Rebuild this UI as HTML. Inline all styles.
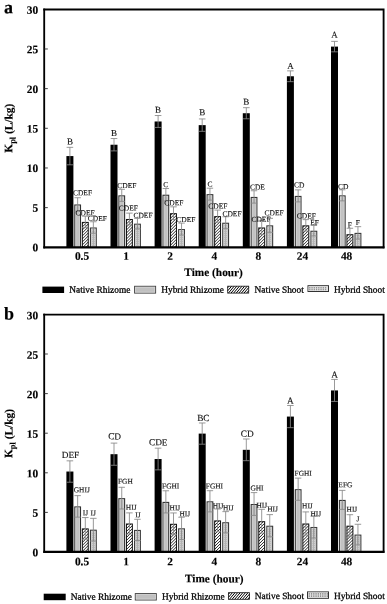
<!DOCTYPE html>
<html><head><meta charset="utf-8"><title>Kpl chart</title>
<style>html,body{margin:0;padding:0;background:#fff}body{width:387px;height:604px;overflow:hidden}svg{display:block;font-family:"Liberation Serif",serif;text-rendering:geometricPrecision}</style>
</head><body>
<svg width="387" height="604" viewBox="0 0 387 604">
<defs>
<pattern id="dots" width="2" height="2" patternUnits="userSpaceOnUse"><rect width="2" height="2" fill="#b2b2b2"/><rect width="0.8" height="1.3" fill="#d6d6d6"/></pattern>
<filter id="fb" x="-5%" y="-5%" width="110%" height="110%"><feGaussianBlur stdDeviation="0.3"/></filter>
<filter id="fh" x="-5%" y="-5%" width="110%" height="110%"><feGaussianBlur stdDeviation="0.05"/></filter>
<filter id="ft" x="-5%" y="-5%" width="110%" height="110%"><feGaussianBlur stdDeviation="0.4"/></filter>
</defs>
<rect width="387" height="604" fill="#fff"/>
<g filter="url(#fb)"><rect x="66.4" y="156.07" width="7" height="91.23" fill="#000"/>
<rect x="74.8" y="205.01" width="5.7" height="42.29" fill="#c2c2c2" stroke="#333" stroke-width="1.1"/>
<rect x="75.8" y="206.01" width="3.7" height="40.64" fill="none" stroke="#d6d6d6" stroke-width="0.7"/>
<rect x="90.45" y="228.02" width="5.8" height="19.28" fill="url(#dots)" stroke="#3a3a3a" stroke-width="1.1"/>
<rect x="91.45" y="229.02" width="3.8" height="17.63" fill="none" stroke="#dadada" stroke-width="0.7"/>
<rect x="110.5" y="144.73" width="7" height="102.57" fill="#000"/>
<rect x="118.9" y="195.89" width="5.7" height="51.41" fill="#c2c2c2" stroke="#333" stroke-width="1.1"/>
<rect x="119.9" y="196.89" width="3.7" height="49.76" fill="none" stroke="#d6d6d6" stroke-width="0.7"/>
<rect x="134.55" y="224.21" width="5.8" height="23.09" fill="url(#dots)" stroke="#3a3a3a" stroke-width="1.1"/>
<rect x="135.55" y="225.21" width="3.8" height="21.44" fill="none" stroke="#dadada" stroke-width="0.7"/>
<rect x="154.6" y="121.48" width="7" height="125.82" fill="#000"/>
<rect x="163" y="195.25" width="5.7" height="52.05" fill="#c2c2c2" stroke="#333" stroke-width="1.1"/>
<rect x="164" y="196.25" width="3.7" height="50.4" fill="none" stroke="#d6d6d6" stroke-width="0.7"/>
<rect x="178.65" y="229.6" width="5.8" height="17.7" fill="url(#dots)" stroke="#3a3a3a" stroke-width="1.1"/>
<rect x="179.65" y="230.6" width="3.8" height="16.05" fill="none" stroke="#dadada" stroke-width="0.7"/>
<rect x="198.7" y="125.13" width="7" height="122.17" fill="#000"/>
<rect x="207.1" y="194.7" width="5.7" height="52.6" fill="#c2c2c2" stroke="#333" stroke-width="1.1"/>
<rect x="208.1" y="195.7" width="3.7" height="50.95" fill="none" stroke="#d6d6d6" stroke-width="0.7"/>
<rect x="222.75" y="223.26" width="5.8" height="24.04" fill="url(#dots)" stroke="#3a3a3a" stroke-width="1.1"/>
<rect x="223.75" y="224.26" width="3.8" height="22.39" fill="none" stroke="#dadada" stroke-width="0.7"/>
<rect x="242.8" y="113.23" width="7" height="134.07" fill="#000"/>
<rect x="251.2" y="197.48" width="5.7" height="49.82" fill="#c2c2c2" stroke="#333" stroke-width="1.1"/>
<rect x="252.2" y="198.48" width="3.7" height="48.17" fill="none" stroke="#d6d6d6" stroke-width="0.7"/>
<rect x="266.85" y="225.88" width="5.8" height="21.42" fill="url(#dots)" stroke="#3a3a3a" stroke-width="1.1"/>
<rect x="267.85" y="226.88" width="3.8" height="19.77" fill="none" stroke="#dadada" stroke-width="0.7"/>
<rect x="286.9" y="76.26" width="7" height="171.04" fill="#000"/>
<rect x="295.3" y="196.44" width="5.7" height="50.86" fill="#c2c2c2" stroke="#333" stroke-width="1.1"/>
<rect x="296.3" y="197.44" width="3.7" height="49.21" fill="none" stroke="#d6d6d6" stroke-width="0.7"/>
<rect x="310.95" y="231.27" width="5.8" height="16.03" fill="url(#dots)" stroke="#3a3a3a" stroke-width="1.1"/>
<rect x="311.95" y="232.27" width="3.8" height="14.38" fill="none" stroke="#dadada" stroke-width="0.7"/>
<rect x="331" y="46.6" width="7" height="200.7" fill="#000"/>
<rect x="339.4" y="195.89" width="5.7" height="51.41" fill="#c2c2c2" stroke="#333" stroke-width="1.1"/>
<rect x="340.4" y="196.89" width="3.7" height="49.76" fill="none" stroke="#d6d6d6" stroke-width="0.7"/>
<rect x="355.05" y="233.41" width="5.8" height="13.89" fill="url(#dots)" stroke="#3a3a3a" stroke-width="1.1"/>
<rect x="356.05" y="234.41" width="3.8" height="12.24" fill="none" stroke="#dadada" stroke-width="0.7"/>
<rect x="66.4" y="471.53" width="7" height="80.37" fill="#000"/>
<rect x="74.8" y="506.93" width="5.7" height="44.97" fill="#c2c2c2" stroke="#333" stroke-width="1.1"/>
<rect x="75.8" y="507.93" width="3.7" height="43.32" fill="none" stroke="#d6d6d6" stroke-width="0.7"/>
<rect x="90.45" y="530.22" width="5.8" height="21.68" fill="url(#dots)" stroke="#3a3a3a" stroke-width="1.1"/>
<rect x="91.45" y="531.22" width="3.8" height="20.03" fill="none" stroke="#dadada" stroke-width="0.7"/>
<rect x="110.5" y="454.19" width="7" height="97.71" fill="#000"/>
<rect x="118.9" y="498.69" width="5.7" height="53.21" fill="#c2c2c2" stroke="#333" stroke-width="1.1"/>
<rect x="119.9" y="499.69" width="3.7" height="51.56" fill="none" stroke="#d6d6d6" stroke-width="0.7"/>
<rect x="134.55" y="530.45" width="5.8" height="21.45" fill="url(#dots)" stroke="#3a3a3a" stroke-width="1.1"/>
<rect x="135.55" y="531.45" width="3.8" height="19.8" fill="none" stroke="#dadada" stroke-width="0.7"/>
<rect x="154.6" y="459.02" width="7" height="92.88" fill="#000"/>
<rect x="163" y="502.42" width="5.7" height="49.48" fill="#c2c2c2" stroke="#333" stroke-width="1.1"/>
<rect x="164" y="503.42" width="3.7" height="47.83" fill="none" stroke="#d6d6d6" stroke-width="0.7"/>
<rect x="178.65" y="528.87" width="5.8" height="23.03" fill="url(#dots)" stroke="#3a3a3a" stroke-width="1.1"/>
<rect x="179.65" y="529.87" width="3.8" height="21.38" fill="none" stroke="#dadada" stroke-width="0.7"/>
<rect x="198.7" y="433.6" width="7" height="118.3" fill="#000"/>
<rect x="207.1" y="501.86" width="5.7" height="50.04" fill="#c2c2c2" stroke="#333" stroke-width="1.1"/>
<rect x="208.1" y="502.86" width="3.7" height="48.39" fill="none" stroke="#d6d6d6" stroke-width="0.7"/>
<rect x="222.75" y="522.77" width="5.8" height="29.13" fill="url(#dots)" stroke="#3a3a3a" stroke-width="1.1"/>
<rect x="223.75" y="523.77" width="3.8" height="27.48" fill="none" stroke="#dadada" stroke-width="0.7"/>
<rect x="242.8" y="449.83" width="7" height="102.07" fill="#000"/>
<rect x="251.2" y="504.55" width="5.7" height="47.35" fill="#c2c2c2" stroke="#333" stroke-width="1.1"/>
<rect x="252.2" y="505.55" width="3.7" height="45.7" fill="none" stroke="#d6d6d6" stroke-width="0.7"/>
<rect x="266.85" y="526.26" width="5.8" height="25.64" fill="url(#dots)" stroke="#3a3a3a" stroke-width="1.1"/>
<rect x="267.85" y="527.26" width="3.8" height="23.99" fill="none" stroke="#dadada" stroke-width="0.7"/>
<rect x="286.9" y="416.57" width="7" height="135.33" fill="#000"/>
<rect x="295.3" y="489.74" width="5.7" height="62.16" fill="#c2c2c2" stroke="#333" stroke-width="1.1"/>
<rect x="296.3" y="490.74" width="3.7" height="60.51" fill="none" stroke="#d6d6d6" stroke-width="0.7"/>
<rect x="310.95" y="527.52" width="5.8" height="24.38" fill="url(#dots)" stroke="#3a3a3a" stroke-width="1.1"/>
<rect x="311.95" y="528.52" width="3.8" height="22.73" fill="none" stroke="#dadada" stroke-width="0.7"/>
<rect x="331" y="390.43" width="7" height="161.47" fill="#000"/>
<rect x="339.4" y="500.44" width="5.7" height="51.46" fill="#c2c2c2" stroke="#333" stroke-width="1.1"/>
<rect x="340.4" y="501.44" width="3.7" height="49.81" fill="none" stroke="#d6d6d6" stroke-width="0.7"/>
<rect x="355.05" y="535.13" width="5.8" height="16.77" fill="url(#dots)" stroke="#3a3a3a" stroke-width="1.1"/>
<rect x="356.05" y="536.13" width="3.8" height="15.12" fill="none" stroke="#dadada" stroke-width="0.7"/>
<rect x="42.4" y="286.6" width="21.7" height="6.4" fill="#000"/>
<rect x="134.6" y="286.3" width="21" height="6.8" fill="#c0c0c0" stroke="#444" stroke-width="1"/>
<rect x="135.5" y="287.2" width="19.2" height="5" fill="none" stroke="#d4d4d4" stroke-width="0.8"/>
<rect x="308" y="285.7" width="20.5" height="5.8" fill="url(#dots)" stroke="#333" stroke-width="1"/>
<rect x="308.5" y="286.2" width="19.5" height="4.8" fill="#e4e4e4"/>
<path d="M309.8 286.9V290.3M312.05 286.9V290.3M314.3 286.9V290.3M316.55 286.9V290.3M318.8 286.9V290.3M321.05 286.9V290.3M323.3 286.9V290.3M325.55 286.9V290.3" stroke="#909090" stroke-width="1.25" stroke-dasharray="1.7 0.45" fill="none"/>
<rect x="43.7" y="593.7" width="22" height="6.5" fill="#000"/>
<rect x="135.3" y="593.6" width="21" height="6.4" fill="#c0c0c0" stroke="#444" stroke-width="1"/>
<rect x="136.2" y="594.5" width="19.2" height="4.6" fill="none" stroke="#d4d4d4" stroke-width="0.8"/>
<rect x="307.5" y="591.9" width="21" height="6.4" fill="url(#dots)" stroke="#333" stroke-width="1"/>
<rect x="308" y="592.4" width="20" height="5.4" fill="#e4e4e4"/>
<path d="M309.3 593.1V597.1M311.55 593.1V597.1M313.8 593.1V597.1M316.05 593.1V597.1M318.3 593.1V597.1M320.55 593.1V597.1M322.8 593.1V597.1M325.05 593.1V597.1M327.3 593.1V597.1" stroke="#909090" stroke-width="1.25" stroke-dasharray="1.7 0.45" fill="none"/></g>
<g filter="url(#fh)"><rect x="82.35" y="222.41" width="5.9" height="24.89" fill="#fff"/><path d="M82.35 223.91L83.85 222.41M82.35 226.91L86.85 222.41M82.35 229.91L88.25 224.01M82.35 232.91L88.25 227.01M82.35 235.91L88.25 230.01M82.35 238.91L88.25 233.01M82.35 241.91L88.25 236.01M82.35 244.91L88.25 239.01M82.96 247.3L88.25 242.01M85.96 247.3L88.25 245.01" stroke="#000" stroke-width="0.85" fill="none"/>
<rect x="126.45" y="219.48" width="5.9" height="27.82" fill="#fff"/><path d="M126.45 220.98L127.95 219.48M126.45 223.98L130.95 219.48M126.45 226.98L132.35 221.08M126.45 229.98L132.35 224.08M126.45 232.98L132.35 227.08M126.45 235.98L132.35 230.08M126.45 238.98L132.35 233.08M126.45 241.98L132.35 236.08M126.45 244.98L132.35 239.08M127.13 247.3L132.35 242.08M130.13 247.3L132.35 245.08" stroke="#000" stroke-width="0.85" fill="none"/>
<rect x="170.55" y="213.69" width="5.9" height="33.61" fill="#fff"/><path d="M170.55 215.19L172.05 213.69M170.55 218.19L175.05 213.69M170.55 221.19L176.45 215.29M170.55 224.19L176.45 218.29M170.55 227.19L176.45 221.29M170.55 230.19L176.45 224.29M170.55 233.19L176.45 227.29M170.55 236.19L176.45 230.29M170.55 239.19L176.45 233.29M170.55 242.19L176.45 236.29M170.55 245.19L176.45 239.29M171.44 247.3L176.45 242.29M174.44 247.3L176.45 245.29" stroke="#000" stroke-width="0.85" fill="none"/>
<rect x="214.65" y="216.62" width="5.9" height="30.68" fill="#fff"/><path d="M214.65 218.12L216.15 216.62M214.65 221.12L219.15 216.62M214.65 224.12L220.55 218.22M214.65 227.12L220.55 221.22M214.65 230.12L220.55 224.22M214.65 233.12L220.55 227.22M214.65 236.12L220.55 230.22M214.65 239.12L220.55 233.22M214.65 242.12L220.55 236.22M214.65 245.12L220.55 239.22M215.47 247.3L220.55 242.22M218.47 247.3L220.55 245.22" stroke="#000" stroke-width="0.85" fill="none"/>
<rect x="258.75" y="227.97" width="5.9" height="19.33" fill="#fff"/><path d="M258.75 229.47L260.25 227.97M258.75 232.47L263.25 227.97M258.75 235.47L264.65 229.57M258.75 238.47L264.65 232.57M258.75 241.47L264.65 235.57M258.75 244.47L264.65 238.57M258.92 247.3L264.65 241.57M261.92 247.3L264.65 244.57" stroke="#000" stroke-width="0.85" fill="none"/>
<rect x="302.85" y="225.83" width="5.9" height="21.47" fill="#fff"/><path d="M302.85 227.33L304.35 225.83M302.85 230.33L307.35 225.83M302.85 233.33L308.75 227.43M302.85 236.33L308.75 230.43M302.85 239.33L308.75 233.43M302.85 242.33L308.75 236.43M302.85 245.33L308.75 239.43M303.88 247.3L308.75 242.43M306.88 247.3L308.75 245.43" stroke="#000" stroke-width="0.85" fill="none"/>
<rect x="346.95" y="234.71" width="5.9" height="12.59" fill="#fff"/><path d="M346.95 236.21L348.45 234.71M346.95 239.21L351.45 234.71M346.95 242.21L352.85 236.31M346.95 245.21L352.85 239.31M347.86 247.3L352.85 242.31M350.86 247.3L352.85 245.31" stroke="#000" stroke-width="0.85" fill="none"/>
<rect x="82.35" y="528.9" width="5.9" height="23" fill="#fff"/><path d="M82.35 530.4L83.85 528.9M82.35 533.4L86.85 528.9M82.35 536.4L88.25 530.5M82.35 539.4L88.25 533.5M82.35 542.4L88.25 536.5M82.35 545.4L88.25 539.5M82.35 548.4L88.25 542.5M82.35 551.4L88.25 545.5M84.85 551.9L88.25 548.5M87.85 551.9L88.25 551.5" stroke="#000" stroke-width="0.85" fill="none"/>
<rect x="126.45" y="523.99" width="5.9" height="27.91" fill="#fff"/><path d="M126.45 525.49L127.95 523.99M126.45 528.49L130.95 523.99M126.45 531.49L132.35 525.59M126.45 534.49L132.35 528.59M126.45 537.49L132.35 531.59M126.45 540.49L132.35 534.59M126.45 543.49L132.35 537.59M126.45 546.49L132.35 540.59M126.45 549.49L132.35 543.59M127.04 551.9L132.35 546.59M130.04 551.9L132.35 549.59" stroke="#000" stroke-width="0.85" fill="none"/>
<rect x="170.55" y="524.3" width="5.9" height="27.6" fill="#fff"/><path d="M170.55 525.8L172.05 524.3M170.55 528.8L175.05 524.3M170.55 531.8L176.45 525.9M170.55 534.8L176.45 528.9M170.55 537.8L176.45 531.9M170.55 540.8L176.45 534.9M170.55 543.8L176.45 537.9M170.55 546.8L176.45 540.9M170.55 549.8L176.45 543.9M171.45 551.9L176.45 546.9M174.45 551.9L176.45 549.9" stroke="#000" stroke-width="0.85" fill="none"/>
<rect x="214.65" y="520.9" width="5.9" height="31" fill="#fff"/><path d="M214.65 522.4L216.15 520.9M214.65 525.4L219.15 520.9M214.65 528.4L220.55 522.5M214.65 531.4L220.55 525.5M214.65 534.4L220.55 528.5M214.65 537.4L220.55 531.5M214.65 540.4L220.55 534.5M214.65 543.4L220.55 537.5M214.65 546.4L220.55 540.5M214.65 549.4L220.55 543.5M215.15 551.9L220.55 546.5M218.15 551.9L220.55 549.5" stroke="#000" stroke-width="0.85" fill="none"/>
<rect x="258.75" y="521.69" width="5.9" height="30.21" fill="#fff"/><path d="M258.75 523.19L260.25 521.69M258.75 526.19L263.25 521.69M258.75 529.19L264.65 523.29M258.75 532.19L264.65 526.29M258.75 535.19L264.65 529.29M258.75 538.19L264.65 532.29M258.75 541.19L264.65 535.29M258.75 544.19L264.65 538.29M258.75 547.19L264.65 541.29M258.75 550.19L264.65 544.29M260.04 551.9L264.65 547.29M263.04 551.9L264.65 550.29" stroke="#000" stroke-width="0.85" fill="none"/>
<rect x="302.85" y="523.99" width="5.9" height="27.91" fill="#fff"/><path d="M302.85 525.49L304.35 523.99M302.85 528.49L307.35 523.99M302.85 531.49L308.75 525.59M302.85 534.49L308.75 528.59M302.85 537.49L308.75 531.59M302.85 540.49L308.75 534.59M302.85 543.49L308.75 537.59M302.85 546.49L308.75 540.59M302.85 549.49L308.75 543.59M303.44 551.9L308.75 546.59M306.44 551.9L308.75 549.59" stroke="#000" stroke-width="0.85" fill="none"/>
<rect x="346.95" y="526.21" width="5.9" height="25.69" fill="#fff"/><path d="M346.95 527.71L348.45 526.21M346.95 530.71L351.45 526.21M346.95 533.71L352.85 527.81M346.95 536.71L352.85 530.81M346.95 539.71L352.85 533.81M346.95 542.71L352.85 536.81M346.95 545.71L352.85 539.81M346.95 548.71L352.85 542.81M346.95 551.71L352.85 545.81M349.76 551.9L352.85 548.81M352.76 551.9L352.85 551.81" stroke="#000" stroke-width="0.85" fill="none"/>
<rect x="227.7" y="286.2" width="21" height="6.9" fill="#fff"/><path d="M227.7 287.75L229 286.2M227.7 290.85L231.6 286.2M228.41 293.1L234.2 286.2M231.01 293.1L236.8 286.2M233.62 293.1L239.41 286.2M236.22 293.1L242.01 286.2M238.82 293.1L244.61 286.2M241.42 293.1L247.21 286.2M244.02 293.1L248.7 287.52M246.62 293.1L248.7 290.62" stroke="#000" stroke-width="1.0" fill="none"/>
<rect x="228.5" y="592.7" width="21" height="6.6" fill="#fff"/><path d="M228.5 594.25L229.8 592.7M228.5 597.35L232.4 592.7M229.46 599.3L235 592.7M232.07 599.3L237.6 592.7M234.67 599.3L240.21 592.7M237.27 599.3L242.81 592.7M239.87 599.3L245.41 592.7M242.47 599.3L248.01 592.7M245.07 599.3L249.5 594.02M247.67 599.3L249.5 597.12" stroke="#000" stroke-width="1.0" fill="none"/></g>
<g filter="url(#fb)"><rect x="82.35" y="222.41" width="5.9" height="24.89" fill="none" stroke="#111" stroke-width="1"/>
<rect x="126.45" y="219.48" width="5.9" height="27.82" fill="none" stroke="#111" stroke-width="1"/>
<rect x="170.55" y="213.69" width="5.9" height="33.61" fill="none" stroke="#111" stroke-width="1"/>
<rect x="214.65" y="216.62" width="5.9" height="30.68" fill="none" stroke="#111" stroke-width="1"/>
<rect x="258.75" y="227.97" width="5.9" height="19.33" fill="none" stroke="#111" stroke-width="1"/>
<rect x="302.85" y="225.83" width="5.9" height="21.47" fill="none" stroke="#111" stroke-width="1"/>
<rect x="346.95" y="234.71" width="5.9" height="12.59" fill="none" stroke="#111" stroke-width="1"/>
<rect x="82.35" y="528.9" width="5.9" height="23" fill="none" stroke="#111" stroke-width="1"/>
<rect x="126.45" y="523.99" width="5.9" height="27.91" fill="none" stroke="#111" stroke-width="1"/>
<rect x="170.55" y="524.3" width="5.9" height="27.6" fill="none" stroke="#111" stroke-width="1"/>
<rect x="214.65" y="520.9" width="5.9" height="31" fill="none" stroke="#111" stroke-width="1"/>
<rect x="258.75" y="521.69" width="5.9" height="30.21" fill="none" stroke="#111" stroke-width="1"/>
<rect x="302.85" y="523.99" width="5.9" height="27.91" fill="none" stroke="#111" stroke-width="1"/>
<rect x="346.95" y="526.21" width="5.9" height="25.69" fill="none" stroke="#111" stroke-width="1"/>
<rect x="227.7" y="286.2" width="21" height="6.9" fill="none" stroke="#111" stroke-width="0.8"/>
<rect x="228.5" y="592.7" width="21" height="6.6" fill="none" stroke="#111" stroke-width="0.8"/>
<path d="M69.9 147.34V164.8M66.6 147.34H73.2M66.6 164.8H73.2" stroke="#868686" stroke-width="0.85" fill="none"/>
<path d="M77.65 197.72V211.2M74.45 197.72H80.85M74.45 211.2H80.85" stroke="#868686" stroke-width="0.85" fill="none"/>
<path d="M85.3 216.2V227.63M82.05 216.2H88.55M82.05 227.63H88.55" stroke="#868686" stroke-width="0.85" fill="none"/>
<path d="M93.35 221.76V233.18M90.1 221.76H96.6M90.1 233.18H96.6" stroke="#868686" stroke-width="0.85" fill="none"/>
<path d="M114 138.54V150.91M110.7 138.54H117.3M110.7 150.91H117.3" stroke="#868686" stroke-width="0.85" fill="none"/>
<path d="M121.75 189.31V201.37M118.55 189.31H124.95M118.55 201.37H124.95" stroke="#868686" stroke-width="0.85" fill="none"/>
<path d="M129.4 213.11V224.85M126.15 213.11H132.65M126.15 224.85H132.65" stroke="#868686" stroke-width="0.85" fill="none"/>
<path d="M137.45 218.42V228.9M134.2 218.42H140.7M134.2 228.9H140.7" stroke="#868686" stroke-width="0.85" fill="none"/>
<path d="M158.1 115.53V127.43M154.8 115.53H161.4M154.8 127.43H161.4" stroke="#868686" stroke-width="0.85" fill="none"/>
<path d="M165.85 188.52V200.89M162.65 188.52H169.05M162.65 200.89H169.05" stroke="#868686" stroke-width="0.85" fill="none"/>
<path d="M173.5 206.84V219.53M170.25 206.84H176.75M170.25 219.53H176.75" stroke="#868686" stroke-width="0.85" fill="none"/>
<path d="M181.55 223.1V235M178.3 223.1H184.8M178.3 235H184.8" stroke="#868686" stroke-width="0.85" fill="none"/>
<path d="M202.2 118.94V131.32M198.9 118.94H205.5M198.9 131.32H205.5" stroke="#868686" stroke-width="0.85" fill="none"/>
<path d="M209.95 188.2V200.1M206.75 188.2H213.15M206.75 200.1H213.15" stroke="#868686" stroke-width="0.85" fill="none"/>
<path d="M217.6 210.09V222.15M214.35 210.09H220.85M214.35 222.15H220.85" stroke="#868686" stroke-width="0.85" fill="none"/>
<path d="M225.65 216.76V228.66M222.4 216.76H228.9M222.4 228.66H228.9" stroke="#868686" stroke-width="0.85" fill="none"/>
<path d="M246.3 107.68V118.79M243 107.68H249.6M243 118.79H249.6" stroke="#868686" stroke-width="0.85" fill="none"/>
<path d="M254.05 190.74V203.11M250.85 190.74H257.25M250.85 203.11H257.25" stroke="#868686" stroke-width="0.85" fill="none"/>
<path d="M261.7 220.33V234.61M258.45 220.33H264.95M258.45 234.61H264.95" stroke="#868686" stroke-width="0.85" fill="none"/>
<path d="M269.75 218.34V232.31M266.5 218.34H273M266.5 232.31H273" stroke="#868686" stroke-width="0.85" fill="none"/>
<path d="M290.4 70.87V81.66M287.1 70.87H293.7M287.1 81.66H293.7" stroke="#868686" stroke-width="0.85" fill="none"/>
<path d="M298.15 189.87V201.92M294.95 189.87H301.35M294.95 201.92H301.35" stroke="#868686" stroke-width="0.85" fill="none"/>
<path d="M305.8 219.61V231.04M302.55 219.61H309.05M302.55 231.04H309.05" stroke="#868686" stroke-width="0.85" fill="none"/>
<path d="M313.85 225.48V235.96M310.6 225.48H317.1M310.6 235.96H317.1" stroke="#868686" stroke-width="0.85" fill="none"/>
<path d="M334.5 41.36V51.83M331.2 41.36H337.8M331.2 51.83H337.8" stroke="#868686" stroke-width="0.85" fill="none"/>
<path d="M342.25 189.79V200.89M339.05 189.79H345.45M339.05 200.89H345.45" stroke="#868686" stroke-width="0.85" fill="none"/>
<path d="M349.9 228.26V240.16M346.65 228.26H353.15M346.65 240.16H353.15" stroke="#868686" stroke-width="0.85" fill="none"/>
<path d="M357.95 226.67V239.05M354.7 226.67H361.2M354.7 239.05H361.2" stroke="#868686" stroke-width="0.85" fill="none"/>
<path d="M69.9 460.84V482.22M66.6 460.84H73.2M66.6 482.22H73.2" stroke="#868686" stroke-width="0.85" fill="none"/>
<path d="M77.65 495.61V517.15M74.45 495.61H80.85M74.45 517.15H80.85" stroke="#868686" stroke-width="0.85" fill="none"/>
<path d="M85.3 517.55V539.25M82.05 517.55H88.55M82.05 539.25H88.55" stroke="#868686" stroke-width="0.85" fill="none"/>
<path d="M93.35 518.34V540.99M90.1 518.34H96.6M90.1 540.99H96.6" stroke="#868686" stroke-width="0.85" fill="none"/>
<path d="M114 443.1V465.28M110.7 443.1H117.3M110.7 465.28H117.3" stroke="#868686" stroke-width="0.85" fill="none"/>
<path d="M121.75 487.29V508.99M118.55 487.29H124.95M118.55 508.99H124.95" stroke="#868686" stroke-width="0.85" fill="none"/>
<path d="M129.4 512.88V534.1M126.15 512.88H132.65M126.15 534.1H132.65" stroke="#868686" stroke-width="0.85" fill="none"/>
<path d="M137.45 519.29V540.52M134.2 519.29H140.7M134.2 540.52H140.7" stroke="#868686" stroke-width="0.85" fill="none"/>
<path d="M158.1 448.17V469.87M154.8 448.17H161.4M154.8 469.87H161.4" stroke="#868686" stroke-width="0.85" fill="none"/>
<path d="M165.85 490.78V512.95M162.65 490.78H169.05M162.65 512.95H169.05" stroke="#868686" stroke-width="0.85" fill="none"/>
<path d="M173.5 512.95V534.66M170.25 512.95H176.75M170.25 534.66H176.75" stroke="#868686" stroke-width="0.85" fill="none"/>
<path d="M181.55 517.23V539.41M178.3 517.23H184.8M178.3 539.41H184.8" stroke="#868686" stroke-width="0.85" fill="none"/>
<path d="M202.2 422.98V444.21M198.9 422.98H205.5M198.9 444.21H205.5" stroke="#868686" stroke-width="0.85" fill="none"/>
<path d="M209.95 490.7V511.92M206.75 490.7H213.15M206.75 511.92H213.15" stroke="#868686" stroke-width="0.85" fill="none"/>
<path d="M217.6 508.99V531.8M214.35 508.99H220.85M214.35 531.8H220.85" stroke="#868686" stroke-width="0.85" fill="none"/>
<path d="M225.65 511.61V532.83M222.4 511.61H228.9M222.4 532.83H228.9" stroke="#868686" stroke-width="0.85" fill="none"/>
<path d="M246.3 438.98V460.68M243 438.98H249.6M243 460.68H249.6" stroke="#868686" stroke-width="0.85" fill="none"/>
<path d="M254.05 492.6V515.41M250.85 492.6H257.25M250.85 515.41H257.25" stroke="#868686" stroke-width="0.85" fill="none"/>
<path d="M261.7 509.31V533.07M258.45 509.31H264.95M258.45 533.07H264.95" stroke="#868686" stroke-width="0.85" fill="none"/>
<path d="M269.75 514.62V536.79M266.5 514.62H273M266.5 536.79H273" stroke="#868686" stroke-width="0.85" fill="none"/>
<path d="M290.4 405.48V427.66M287.1 405.48H293.7M287.1 427.66H293.7" stroke="#868686" stroke-width="0.85" fill="none"/>
<path d="M298.15 478.11V500.28M294.95 478.11H301.35M294.95 500.28H301.35" stroke="#868686" stroke-width="0.85" fill="none"/>
<path d="M305.8 511.92V535.05M302.55 511.92H309.05M302.55 535.05H309.05" stroke="#868686" stroke-width="0.85" fill="none"/>
<path d="M313.85 515.88V538.06M310.6 515.88H317.1M310.6 538.06H317.1" stroke="#868686" stroke-width="0.85" fill="none"/>
<path d="M334.5 379.42V401.44M331.2 379.42H337.8M331.2 401.44H337.8" stroke="#868686" stroke-width="0.85" fill="none"/>
<path d="M342.25 490.38V509.39M339.05 490.38H345.45M339.05 509.39H345.45" stroke="#868686" stroke-width="0.85" fill="none"/>
<path d="M349.9 514.7V536.71M346.65 514.7H353.15M346.65 536.71H353.15" stroke="#868686" stroke-width="0.85" fill="none"/>
<path d="M357.95 524.28V544.87M354.7 524.28H361.2M354.7 544.87H361.2" stroke="#868686" stroke-width="0.85" fill="none"/>
<path d="M44.2 9.5H383.6V247.3" stroke="#000" stroke-width="1.85" fill="none" stroke-linecap="square"/>
<path d="M44.2 8.6V248.35" stroke="#000" stroke-width="1.85" fill="none"/>
<path d="M43.3 247.3H384.5" stroke="#000" stroke-width="2.15" fill="none"/>
<path d="M44.2 207.64H47.8" stroke="#222" stroke-width="0.85"/>
<path d="M44.2 167.97H47.8" stroke="#222" stroke-width="0.85"/>
<path d="M44.2 128.31H47.8" stroke="#222" stroke-width="0.85"/>
<path d="M44.2 88.64H47.8" stroke="#222" stroke-width="0.85"/>
<path d="M44.2 48.98H47.8" stroke="#222" stroke-width="0.85"/>
<path d="M44.2 314.6H383.6V551.9" stroke="#000" stroke-width="1.85" fill="none" stroke-linecap="square"/>
<path d="M44.2 313.7V552.95" stroke="#000" stroke-width="1.85" fill="none"/>
<path d="M43.3 551.9H384.5" stroke="#000" stroke-width="2.15" fill="none"/>
<path d="M44.2 512.4H47.8" stroke="#222" stroke-width="0.85"/>
<path d="M44.2 472.8H47.8" stroke="#222" stroke-width="0.85"/>
<path d="M44.2 433.2H47.8" stroke="#222" stroke-width="0.85"/>
<path d="M44.2 393.6H47.8" stroke="#222" stroke-width="0.85"/>
<path d="M44.2 354H47.8" stroke="#222" stroke-width="0.85"/></g>
<g filter="url(#ft)"><text transform="translate(69.9 144.58) matrix(1 .002 0 1 0 0)" font-size="9" text-anchor="middle" fill="#111" stroke="#111" stroke-width="0.12">B</text>
<text transform="translate(82.5 195.28) matrix(1 .002 0 1 0 0)" font-size="7.5" text-anchor="middle" fill="#111" stroke="#111" stroke-width="0.12">CDEF</text>
<text transform="translate(85.1 215.18) matrix(1 .002 0 1 0 0)" font-size="7.5" text-anchor="middle" fill="#111" stroke="#111" stroke-width="0.12">CDEF</text>
<text transform="translate(97.35 220.88) matrix(1 .002 0 1 0 0)" font-size="7.5" text-anchor="middle" fill="#111" stroke="#111" stroke-width="0.12">CDEF</text>
<text transform="translate(114 136.08) matrix(1 .002 0 1 0 0)" font-size="9" text-anchor="middle" fill="#111" stroke="#111" stroke-width="0.12">B</text>
<text transform="translate(126.95 188.08) matrix(1 .002 0 1 0 0)" font-size="7.5" text-anchor="middle" fill="#111" stroke="#111" stroke-width="0.12">CDEF</text>
<text transform="translate(128.35 210.48) matrix(1 .002 0 1 0 0)" font-size="7.5" text-anchor="middle" fill="#111" stroke="#111" stroke-width="0.12">CDEF</text>
<text transform="translate(143 217.78) matrix(1 .002 0 1 0 0)" font-size="7.5" text-anchor="middle" fill="#111" stroke="#111" stroke-width="0.12">CDEF</text>
<text transform="translate(158.1 112.78) matrix(1 .002 0 1 0 0)" font-size="9" text-anchor="middle" fill="#111" stroke="#111" stroke-width="0.12">B</text>
<text transform="translate(165.85 186.98) matrix(1 .002 0 1 0 0)" font-size="7.5" text-anchor="middle" fill="#111" stroke="#111" stroke-width="0.12">C</text>
<text transform="translate(173.95 205.28) matrix(1 .002 0 1 0 0)" font-size="7.5" text-anchor="middle" fill="#111" stroke="#111" stroke-width="0.12">CDEF</text>
<text transform="translate(185.85 222.08) matrix(1 .002 0 1 0 0)" font-size="7.5" text-anchor="middle" fill="#111" stroke="#111" stroke-width="0.12">CDEF</text>
<text transform="translate(202.2 115.38) matrix(1 .002 0 1 0 0)" font-size="9" text-anchor="middle" fill="#111" stroke="#111" stroke-width="0.12">B</text>
<text transform="translate(209.95 186.48) matrix(1 .002 0 1 0 0)" font-size="7.5" text-anchor="middle" fill="#111" stroke="#111" stroke-width="0.12">C</text>
<text transform="translate(217.9 208.48) matrix(1 .002 0 1 0 0)" font-size="7.5" text-anchor="middle" fill="#111" stroke="#111" stroke-width="0.12">CDEF</text>
<text transform="translate(232 216.18) matrix(1 .002 0 1 0 0)" font-size="7.5" text-anchor="middle" fill="#111" stroke="#111" stroke-width="0.12">CDEF</text>
<text transform="translate(246.3 104.88) matrix(1 .002 0 1 0 0)" font-size="9" text-anchor="middle" fill="#111" stroke="#111" stroke-width="0.12">B</text>
<text transform="translate(257.45 189.48) matrix(1 .002 0 1 0 0)" font-size="7.5" text-anchor="middle" fill="#111" stroke="#111" stroke-width="0.12">CDE</text>
<text transform="translate(261 221.78) matrix(1 .002 0 1 0 0)" font-size="7.5" text-anchor="middle" fill="#111" stroke="#111" stroke-width="0.12">CDEF</text>
<text transform="translate(274.05 215.28) matrix(1 .002 0 1 0 0)" font-size="7.5" text-anchor="middle" fill="#111" stroke="#111" stroke-width="0.12">CDEF</text>
<text transform="translate(290.4 68.98) matrix(1 .002 0 1 0 0)" font-size="9" text-anchor="middle" fill="#111" stroke="#111" stroke-width="0.12">A</text>
<text transform="translate(299.1 187.38) matrix(1 .002 0 1 0 0)" font-size="7.5" text-anchor="middle" fill="#111" stroke="#111" stroke-width="0.12">CD</text>
<text transform="translate(306.35 218.38) matrix(1 .002 0 1 0 0)" font-size="7.5" text-anchor="middle" fill="#111" stroke="#111" stroke-width="0.12">CDEF</text>
<text transform="translate(314.6 224.88) matrix(1 .002 0 1 0 0)" font-size="7.5" text-anchor="middle" fill="#111" stroke="#111" stroke-width="0.12">EF</text>
<text transform="translate(334.5 37.78) matrix(1 .002 0 1 0 0)" font-size="9" text-anchor="middle" fill="#111" stroke="#111" stroke-width="0.12">A</text>
<text transform="translate(343.15 188.98) matrix(1 .002 0 1 0 0)" font-size="7.5" text-anchor="middle" fill="#111" stroke="#111" stroke-width="0.12">CD</text>
<text transform="translate(349.9 227.48) matrix(1 .002 0 1 0 0)" font-size="7.5" text-anchor="middle" fill="#111" stroke="#111" stroke-width="0.12">F</text>
<text transform="translate(357.95 224.98) matrix(1 .002 0 1 0 0)" font-size="7.5" text-anchor="middle" fill="#111" stroke="#111" stroke-width="0.12">F</text>
<text transform="translate(38.2 251.25) matrix(1 .002 0 1 0 0)" font-size="11.4" font-weight="bold" text-anchor="end" stroke="#000" stroke-width="0.15">0</text>
<text transform="translate(38.2 211.67) matrix(1 .002 0 1 0 0)" font-size="11.4" font-weight="bold" text-anchor="end" stroke="#000" stroke-width="0.15">5</text>
<text transform="translate(38.2 172.09) matrix(1 .002 0 1 0 0)" font-size="11.4" font-weight="bold" text-anchor="end" stroke="#000" stroke-width="0.15">10</text>
<text transform="translate(38.2 132.5) matrix(1 .002 0 1 0 0)" font-size="11.4" font-weight="bold" text-anchor="end" stroke="#000" stroke-width="0.15">15</text>
<text transform="translate(38.2 92.92) matrix(1 .002 0 1 0 0)" font-size="11.4" font-weight="bold" text-anchor="end" stroke="#000" stroke-width="0.15">20</text>
<text transform="translate(38.2 53.34) matrix(1 .002 0 1 0 0)" font-size="11.4" font-weight="bold" text-anchor="end" stroke="#000" stroke-width="0.15">25</text>
<text transform="translate(38.2 13.76) matrix(1 .002 0 1 0 0)" font-size="11.4" font-weight="bold" text-anchor="end" stroke="#000" stroke-width="0.15">30</text>
<text transform="translate(70.5 458.08) matrix(1 .002 0 1 0 0)" font-size="9.3" text-anchor="middle" fill="#111" stroke="#111" stroke-width="0.12">DEF</text>
<text transform="translate(81.75 492.35) matrix(1 .002 0 1 0 0)" font-size="7.4" text-anchor="middle" fill="#111" stroke="#111" stroke-width="0.12">GHIJ</text>
<text transform="translate(85.5 515.35) matrix(1 .002 0 1 0 0)" font-size="7.4" text-anchor="middle" fill="#111" stroke="#111" stroke-width="0.12">IJ</text>
<text transform="translate(93.25 515.55) matrix(1 .002 0 1 0 0)" font-size="7.4" text-anchor="middle" fill="#111" stroke="#111" stroke-width="0.12">IJ</text>
<text transform="translate(114.6 439.38) matrix(1 .002 0 1 0 0)" font-size="9.3" text-anchor="middle" fill="#111" stroke="#111" stroke-width="0.12">CD</text>
<text transform="translate(125.4 483.75) matrix(1 .002 0 1 0 0)" font-size="7.4" text-anchor="middle" fill="#111" stroke="#111" stroke-width="0.12">FGH</text>
<text transform="translate(131.2 509.65) matrix(1 .002 0 1 0 0)" font-size="7.4" text-anchor="middle" fill="#111" stroke="#111" stroke-width="0.12">HIJ</text>
<text transform="translate(137.95 517.35) matrix(1 .002 0 1 0 0)" font-size="7.4" text-anchor="middle" fill="#111" stroke="#111" stroke-width="0.12">IJ</text>
<text transform="translate(158.25 445.38) matrix(1 .002 0 1 0 0)" font-size="9.3" text-anchor="middle" fill="#111" stroke="#111" stroke-width="0.12">CDE</text>
<text transform="translate(170.7 488.45) matrix(1 .002 0 1 0 0)" font-size="7.4" text-anchor="middle" fill="#111" stroke="#111" stroke-width="0.12">FGHI</text>
<text transform="translate(174.9 510.35) matrix(1 .002 0 1 0 0)" font-size="7.4" text-anchor="middle" fill="#111" stroke="#111" stroke-width="0.12">HIJ</text>
<text transform="translate(184.75 516.25) matrix(1 .002 0 1 0 0)" font-size="7.4" text-anchor="middle" fill="#111" stroke="#111" stroke-width="0.12">HIJ</text>
<text transform="translate(203.35 421.08) matrix(1 .002 0 1 0 0)" font-size="9.3" text-anchor="middle" fill="#111" stroke="#111" stroke-width="0.12">BC</text>
<text transform="translate(214.45 488.45) matrix(1 .002 0 1 0 0)" font-size="7.4" text-anchor="middle" fill="#111" stroke="#111" stroke-width="0.12">FGHI</text>
<text transform="translate(218.05 508.25) matrix(1 .002 0 1 0 0)" font-size="7.4" text-anchor="middle" fill="#111" stroke="#111" stroke-width="0.12">HIJ</text>
<text transform="translate(228.35 510.15) matrix(1 .002 0 1 0 0)" font-size="7.4" text-anchor="middle" fill="#111" stroke="#111" stroke-width="0.12">HIJ</text>
<text transform="translate(247.2 436.68) matrix(1 .002 0 1 0 0)" font-size="9.3" text-anchor="middle" fill="#111" stroke="#111" stroke-width="0.12">CD</text>
<text transform="translate(257 490.55) matrix(1 .002 0 1 0 0)" font-size="7.4" text-anchor="middle" fill="#111" stroke="#111" stroke-width="0.12">GHI</text>
<text transform="translate(261.75 507.75) matrix(1 .002 0 1 0 0)" font-size="7.4" text-anchor="middle" fill="#111" stroke="#111" stroke-width="0.12">HIJ</text>
<text transform="translate(272.55 511.45) matrix(1 .002 0 1 0 0)" font-size="7.4" text-anchor="middle" fill="#111" stroke="#111" stroke-width="0.12">HIJ</text>
<text transform="translate(290.4 403.68) matrix(1 .002 0 1 0 0)" font-size="9.3" text-anchor="middle" fill="#111" stroke="#111" stroke-width="0.12">A</text>
<text transform="translate(303.15 475.75) matrix(1 .002 0 1 0 0)" font-size="7.4" text-anchor="middle" fill="#111" stroke="#111" stroke-width="0.12">FGHI</text>
<text transform="translate(307.4 508.25) matrix(1 .002 0 1 0 0)" font-size="7.4" text-anchor="middle" fill="#111" stroke="#111" stroke-width="0.12">HIJ</text>
<text transform="translate(315.75 516.25) matrix(1 .002 0 1 0 0)" font-size="7.4" text-anchor="middle" fill="#111" stroke="#111" stroke-width="0.12">HIJ</text>
<text transform="translate(334.5 377.78) matrix(1 .002 0 1 0 0)" font-size="9.3" text-anchor="middle" fill="#111" stroke="#111" stroke-width="0.12">A</text>
<text transform="translate(345.35 487.25) matrix(1 .002 0 1 0 0)" font-size="7.4" text-anchor="middle" fill="#111" stroke="#111" stroke-width="0.12">EFG</text>
<text transform="translate(351.9 511.75) matrix(1 .002 0 1 0 0)" font-size="7.4" text-anchor="middle" fill="#111" stroke="#111" stroke-width="0.12">HIJ</text>
<text transform="translate(357.95 521.15) matrix(1 .002 0 1 0 0)" font-size="7.4" text-anchor="middle" fill="#111" stroke="#111" stroke-width="0.12">J</text>
<text transform="translate(38.2 556.3) matrix(1 .002 0 1 0 0)" font-size="11.4" font-weight="bold" text-anchor="end" stroke="#000" stroke-width="0.15">0</text>
<text transform="translate(38.2 516.78) matrix(1 .002 0 1 0 0)" font-size="11.4" font-weight="bold" text-anchor="end" stroke="#000" stroke-width="0.15">5</text>
<text transform="translate(38.2 477.27) matrix(1 .002 0 1 0 0)" font-size="11.4" font-weight="bold" text-anchor="end" stroke="#000" stroke-width="0.15">10</text>
<text transform="translate(38.2 437.75) matrix(1 .002 0 1 0 0)" font-size="11.4" font-weight="bold" text-anchor="end" stroke="#000" stroke-width="0.15">15</text>
<text transform="translate(38.2 398.23) matrix(1 .002 0 1 0 0)" font-size="11.4" font-weight="bold" text-anchor="end" stroke="#000" stroke-width="0.15">20</text>
<text transform="translate(38.2 358.72) matrix(1 .002 0 1 0 0)" font-size="11.4" font-weight="bold" text-anchor="end" stroke="#000" stroke-width="0.15">25</text>
<text transform="translate(38.2 319.2) matrix(1 .002 0 1 0 0)" font-size="11.4" font-weight="bold" text-anchor="end" stroke="#000" stroke-width="0.15">30</text>
<text transform="translate(4.0 13.3) matrix(1 .002 0 1 0 0)" font-size="18" font-weight="bold" stroke="#000" stroke-width="0.2">a</text>
<text transform="translate(3.9 319.6) matrix(1 .002 0 1 0 0)" font-size="18" font-weight="bold" stroke="#000" stroke-width="0.2">b</text>
<text transform="translate(82 259.8) matrix(1 .002 0 1 0 0)" font-size="11.4" font-weight="bold" text-anchor="middle" stroke="#000" stroke-width="0.15">0.5</text>
<text transform="translate(82 565.3) matrix(1 .002 0 1 0 0)" font-size="11.4" font-weight="bold" text-anchor="middle" stroke="#000" stroke-width="0.15">0.5</text>
<text transform="translate(126.1 259.8) matrix(1 .002 0 1 0 0)" font-size="11.4" font-weight="bold" text-anchor="middle" stroke="#000" stroke-width="0.15">1</text>
<text transform="translate(126.1 565.3) matrix(1 .002 0 1 0 0)" font-size="11.4" font-weight="bold" text-anchor="middle" stroke="#000" stroke-width="0.15">1</text>
<text transform="translate(170.2 259.8) matrix(1 .002 0 1 0 0)" font-size="11.4" font-weight="bold" text-anchor="middle" stroke="#000" stroke-width="0.15">2</text>
<text transform="translate(170.2 565.3) matrix(1 .002 0 1 0 0)" font-size="11.4" font-weight="bold" text-anchor="middle" stroke="#000" stroke-width="0.15">2</text>
<text transform="translate(214.3 259.8) matrix(1 .002 0 1 0 0)" font-size="11.4" font-weight="bold" text-anchor="middle" stroke="#000" stroke-width="0.15">4</text>
<text transform="translate(214.3 565.3) matrix(1 .002 0 1 0 0)" font-size="11.4" font-weight="bold" text-anchor="middle" stroke="#000" stroke-width="0.15">4</text>
<text transform="translate(258.4 259.8) matrix(1 .002 0 1 0 0)" font-size="11.4" font-weight="bold" text-anchor="middle" stroke="#000" stroke-width="0.15">8</text>
<text transform="translate(258.4 565.3) matrix(1 .002 0 1 0 0)" font-size="11.4" font-weight="bold" text-anchor="middle" stroke="#000" stroke-width="0.15">8</text>
<text transform="translate(302.5 259.8) matrix(1 .002 0 1 0 0)" font-size="11.4" font-weight="bold" text-anchor="middle" stroke="#000" stroke-width="0.15">24</text>
<text transform="translate(302.5 565.3) matrix(1 .002 0 1 0 0)" font-size="11.4" font-weight="bold" text-anchor="middle" stroke="#000" stroke-width="0.15">24</text>
<text transform="translate(346.6 259.8) matrix(1 .002 0 1 0 0)" font-size="11.4" font-weight="bold" text-anchor="middle" stroke="#000" stroke-width="0.15">48</text>
<text transform="translate(346.6 565.3) matrix(1 .002 0 1 0 0)" font-size="11.4" font-weight="bold" text-anchor="middle" stroke="#000" stroke-width="0.15">48</text>
<text transform="translate(213.6 276.1) matrix(1 .002 0 1 0 0)" font-size="11.3" font-weight="bold" text-anchor="middle" stroke="#000" stroke-width="0.15">Time (hour)</text>
<text transform="translate(214.2 582.4) matrix(1 .002 0 1 0 0)" font-size="11.3" font-weight="bold" text-anchor="middle" stroke="#000" stroke-width="0.15">Time (hour)</text>
<text transform="translate(12.4 128.2) rotate(-90) matrix(1 .002 0 1 0 0)" font-size="11.4" font-weight="bold" text-anchor="middle" stroke="#000" stroke-width="0.15">K<tspan font-size="8.4" dy="3">pl</tspan><tspan dy="-3"> (L/kg)</tspan></text>
<text transform="translate(12.4 433.5) rotate(-90) matrix(1 .002 0 1 0 0)" font-size="11.4" font-weight="bold" text-anchor="middle" stroke="#000" stroke-width="0.15">K<tspan font-size="8.4" dy="3">pl</tspan><tspan dy="-3"> (L/kg)</tspan></text>
<text transform="translate(69.2 292.6) matrix(1 .002 0 1 0 0)" font-size="9.4" fill="#000" stroke="#000" stroke-width="0.28">Native Rhizome</text>
<text transform="translate(161.2 292.6) matrix(1 .002 0 1 0 0)" font-size="9.4" fill="#000" stroke="#000" stroke-width="0.28">Hybrid Rhizome</text>
<text transform="translate(254.6 292.6) matrix(1 .002 0 1 0 0)" font-size="9.4" fill="#000" stroke="#000" stroke-width="0.28">Native Shoot</text>
<text transform="translate(334 292.6) matrix(1 .002 0 1 0 0)" font-size="9.4" fill="#000" stroke="#000" stroke-width="0.28">Hybrid Shoot</text>
<text transform="translate(70.7 599.7) matrix(1 .002 0 1 0 0)" font-size="9.4" fill="#000" stroke="#000" stroke-width="0.28">Native Rhizome</text>
<text transform="translate(162 599.5) matrix(1 .002 0 1 0 0)" font-size="9.4" fill="#000" stroke="#000" stroke-width="0.28">Hybrid Rhizome</text>
<text transform="translate(254.8 599) matrix(1 .002 0 1 0 0)" font-size="9.4" fill="#000" stroke="#000" stroke-width="0.28">Native Shoot</text>
<text transform="translate(334 598.9) matrix(1 .002 0 1 0 0)" font-size="9.4" fill="#000" stroke="#000" stroke-width="0.28">Hybrid Shoot</text></g>
</svg></body></html>
